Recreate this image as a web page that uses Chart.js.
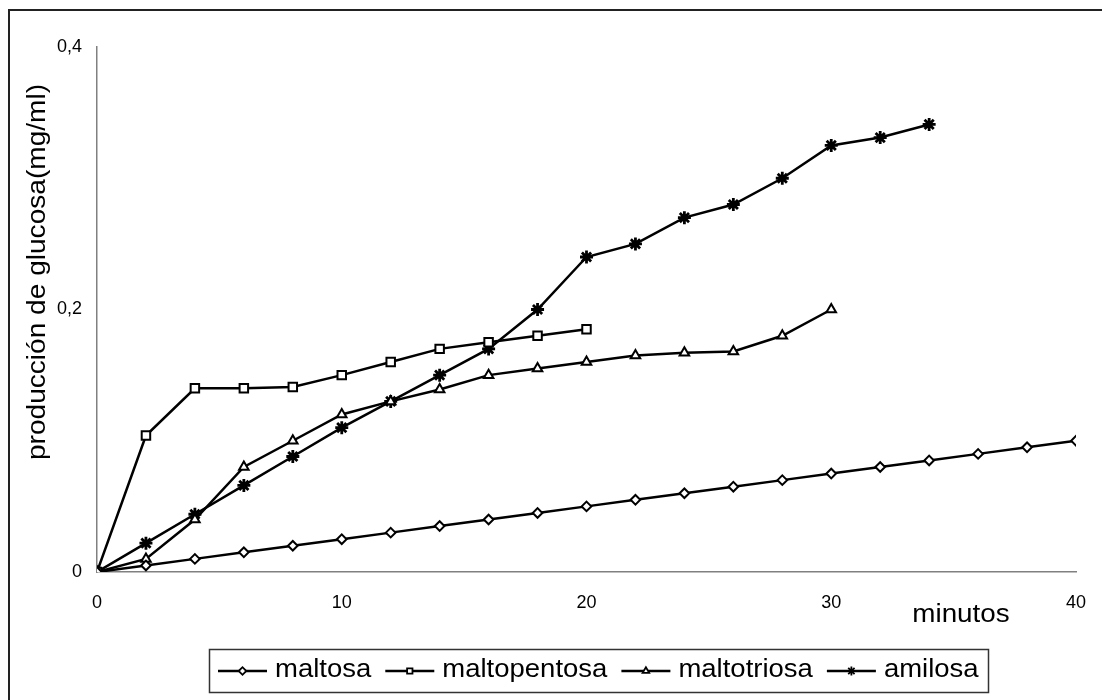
<!DOCTYPE html>
<html>
<head>
<meta charset="utf-8">
<script src="https://cdn.jsdelivr.net/npm/chart.js"></script>
<style>
  html, body { margin: 0; padding: 0; background: #fff; }
  canvas { display: block; }
</style>
</head>
<body>
<canvas id="glucoseChart" width="1102" height="700"></canvas>
<script>
const FONT = '"Liberation Sans", Arial, sans-serif';

// datos (minutos / mg/ml)
const seriesNames = ["maltosa", "maltopentosa", "maltotriosa", "amilosa"];
const seriesMarkers = ["rectRot", "rect", "triangle", "star"];

const maltosaMin = [0, 2, 4, 6, 8, 10, 12, 14, 16, 18, 20, 22, 24, 26, 28, 30, 32, 34, 36, 38, 40];
const maltosaVal = [0, 0.005, 0.01, 0.015, 0.02, 0.025, 0.03, 0.035, 0.04, 0.045, 0.05,
                    0.055, 0.06, 0.065, 0.07, 0.075, 0.08, 0.085, 0.09, 0.095, 0.1];

const maltopentosaMin = [0, 2, 4, 6, 8, 10, 12, 14, 16, 18, 20];
const maltopentosaVal = [0, 0.104, 0.14, 0.14, 0.141, 0.15, 0.16, 0.17, 0.175, 0.18, 0.185];

const maltotriosaMin = [0, 2, 4, 6, 8, 10, 12, 14, 16, 18, 20, 22, 24, 26, 28, 30];
const maltotriosaVal = [0, 0.01, 0.04, 0.08, 0.1, 0.12, 0.13, 0.139, 0.15, 0.155, 0.16,
                        0.165, 0.167, 0.168, 0.18, 0.2];

const amilosaMin = [0, 2, 4, 6, 8, 10, 12, 14, 16, 18, 20, 22, 24, 26, 28, 30, 32, 34];
const amilosaVal = [0, 0.022, 0.044, 0.066, 0.088, 0.11, 0.13, 0.15, 0.17, 0.2, 0.24,
                    0.25, 0.27, 0.28, 0.3, 0.325, 0.331, 0.341];

const xTicks = [0, 10, 20, 30, 40];
const yTicks = [0, 0.2, 0.4];
const xTitle = "minutos";
const yTitle = "producción de glucosa(mg/ml)";

function toPoints(xs, ys) {
  return xs.map((x, i) => ({ x, y: ys[i] }));
}

const seriesData = [
  toPoints(maltosaMin, maltosaVal),
  toPoints(maltopentosaMin, maltopentosaVal),
  toPoints(maltotriosaMin, maltotriosaVal),
  toPoints(amilosaMin, amilosaVal)
];

// texto algo ensanchado, como en la figura original
function wideText(ctx, text, x, y, stretch) {
  ctx.save();
  ctx.translate(x, y);
  ctx.scale(stretch, 1);
  ctx.fillText(text, 0, 0);
  ctx.restore();
}

/* ===============================
   MARCO, TITULOS Y LEYENDA
================================ */
const frameAndLegend = {
  id: "frameAndLegend",
  beforeDraw(chart) {
    const ctx = chart.ctx;
    ctx.save();
    ctx.fillStyle = "#fff";
    ctx.fillRect(0, 0, chart.width, chart.height);
    ctx.restore();
  },
  afterDraw(chart) {
    const ctx = chart.ctx;
    ctx.save();

    // marco exterior
    ctx.strokeStyle = "#222";
    ctx.lineWidth = 2;
    ctx.strokeRect(9, 10, chart.width + 40, chart.height + 40);

    // titulos de ejes
    ctx.fillStyle = "#000";
    ctx.font = "26px " + FONT;
    ctx.textAlign = "center";
    ctx.textBaseline = "middle";
    wideText(ctx, xTitle, 961, 615, 1.07);
    ctx.save();
    ctx.translate(38, 272);
    ctx.rotate(-Math.PI / 2);
    wideText(ctx, yTitle, 0, 0, 1.08);
    ctx.restore();

    // leyenda con caja
    const datasets = chart.data.datasets;
    const symW = 49, symGap = 8, itemGap = 14, padX = 9, stretch = 1.1;
    ctx.font = "25px " + FONT;
    const widths = datasets.map(ds => symW + symGap + ctx.measureText(ds.label).width * stretch);
    const total = widths.reduce((a, b) => a + b, 0) + itemGap * (datasets.length - 1);
    const boxL = Math.round(598 - total / 2 - padX);
    const boxT = 649, boxH = 43, midY = 671;

    ctx.strokeStyle = "#333";
    ctx.lineWidth = 1.5;
    ctx.strokeRect(boxL + 0.5, boxT + 0.5, Math.round(total + padX * 2), boxH);

    let x = boxL + padX;
    datasets.forEach((ds, i) => {
      ctx.strokeStyle = "#000";
      ctx.lineWidth = 2.5;
      ctx.beginPath();
      ctx.moveTo(x, midY);
      ctx.lineTo(x + symW, midY);
      ctx.stroke();

      ctx.fillStyle = "#fff";
      ctx.strokeStyle = "#000";
      ctx.lineWidth = 1.8;
      if (Chart.helpers && Chart.helpers.drawPoint) {
        Chart.helpers.drawPoint(ctx, {
          pointStyle: ds.pointStyle,
          radius: ds.pointStyle === "star" ? 4.5 : 3.8,
          rotation: 0,
          borderWidth: 1.8
        }, x + symW / 2, midY);
      }

      ctx.fillStyle = "#000";
      ctx.textAlign = "left";
      ctx.textBaseline = "middle";
      wideText(ctx, ds.label, x + symW + symGap, midY - 1, stretch);
      x += widths[i] + itemGap;
    });

    ctx.restore();
  }
};

/* ===============================
   GRAFICO
================================ */
const ctx = document.getElementById("glucoseChart");

new Chart(ctx, {
  type: "line",
  data: {
    datasets: seriesNames.map((name, i) => ({
      label: name,
      data: seriesData[i],
      borderColor: "#000",
      borderWidth: 2.5,
      tension: 0,
      pointStyle: seriesMarkers[i],
      pointRadius: { rectRot: 4.8, rect: 6, triangle: 5.5, star: 6.5 }[seriesMarkers[i]],
      pointBorderWidth: seriesMarkers[i] === "star" ? 2.8 : 2,
      pointBorderColor: "#000",
      pointBackgroundColor: "#fff"
    }))
  },
  options: {
    responsive: false,
    animation: false,
    layout: { padding: { left: 0, top: 47, right: 26, bottom: 0 } },
    plugins: {
      legend: { display: false },
      tooltip: { enabled: false }
    },
    scales: {
      x: {
        type: "linear",
        min: 0,
        max: 40,
        grid: { display: false, drawTicks: false },
        border: { display: true, color: "#808080", width: 1.5 },
        afterBuildTicks(scale) {
          scale.ticks = xTicks.map(v => ({ value: v }));
        },
        afterFit(scale) {
          scale.height = 128;
          scale.paddingLeft = 0;
          scale.paddingRight = 0;
        },
        ticks: {
          color: "#000",
          font: { family: FONT, size: 18 },
          padding: 20,
          maxRotation: 0
        }
      },
      y: {
        min: 0,
        max: 0.4,
        grid: { display: false, drawTicks: false },
        border: { display: true, color: "#808080", width: 1.5 },
        afterBuildTicks(scale) {
          scale.ticks = yTicks.map(v => ({ value: v }));
        },
        afterFit(scale) { scale.width = 97; },
        ticks: {
          color: "#000",
          font: { family: FONT, size: 18 },
          padding: 15,
          callback: v => String(Number(v.toFixed(1))).replace(".", ",")
        }
      }
    }
  },
  plugins: [frameAndLegend]
});
</script>
</body>
</html>
